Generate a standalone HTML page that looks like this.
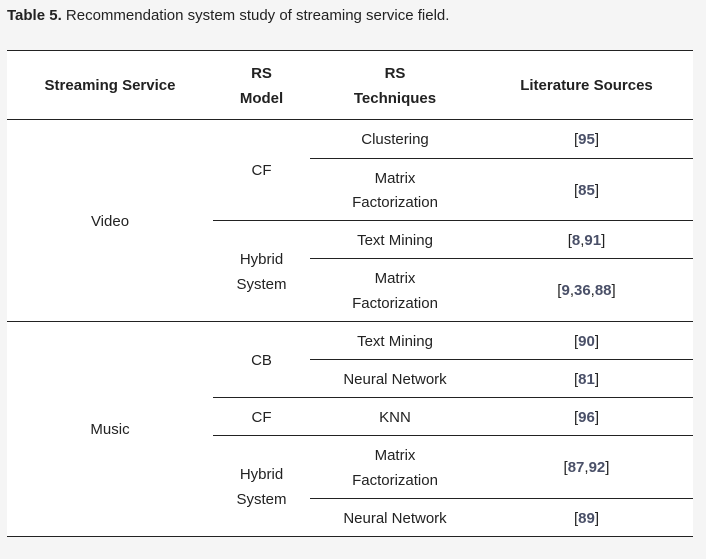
<!DOCTYPE html>
<html><head><meta charset="utf-8"><style>
body{margin:0;width:706px;height:559px;background:#f5f5f5;font-family:"Liberation Sans",Arial,sans-serif;color:#222;position:relative;overflow:hidden}
.cap{position:absolute;left:7px;top:7px;font-size:15px;color:#222}
.tbl{position:absolute;left:7px;top:50px;width:686px;height:486px;background:#fff}
.ln{position:absolute;height:1px;background:#222}
.c{position:absolute;display:flex;align-items:center;justify-content:center;text-align:center;font-size:15px;line-height:24.5px;padding-top:3px;box-sizing:border-box}
.h{font-weight:bold;color:#222}
.r{font-weight:bold;color:#4a5068}
.r b{color:#222;font-weight:normal}
</style></head><body>
<div class="cap"><b>Table 5.</b> Recommendation system study of streaming service field.</div>
<div class="tbl"></div>
<div class="ln" style="left:7px;width:686px;top:50px"></div>
<div class="ln" style="left:7px;width:686px;top:119px"></div>
<div class="ln" style="left:310px;width:383px;top:158px"></div>
<div class="ln" style="left:213px;width:480px;top:220px"></div>
<div class="ln" style="left:310px;width:383px;top:258px"></div>
<div class="ln" style="left:7px;width:686px;top:321px"></div>
<div class="ln" style="left:310px;width:383px;top:359px"></div>
<div class="ln" style="left:213px;width:480px;top:397px"></div>
<div class="ln" style="left:213px;width:480px;top:435px"></div>
<div class="ln" style="left:310px;width:383px;top:498px"></div>
<div class="ln" style="left:7px;width:686px;top:536px"></div>

<div class="c h" style="left:7px;width:206px;top:51px;height:68px">Streaming Service</div>
<div class="c h" style="left:213px;width:97px;top:51px;height:68px">RS<br>Model</div>
<div class="c h" style="left:310px;width:170px;top:51px;height:68px">RS<br>Techniques</div>
<div class="c h" style="left:480px;width:213px;top:51px;height:68px">Literature Sources</div>

<div class="c" style="left:7px;width:206px;top:120px;height:201px">Video</div>
<div class="c" style="left:7px;width:206px;top:322px;height:214px">Music</div>

<div class="c" style="left:213px;width:97px;top:120px;height:100px">CF</div>
<div class="c" style="left:213px;width:97px;top:221px;height:100px">Hybrid<br>System</div>
<div class="c" style="left:213px;width:97px;top:322px;height:75px">CB</div>
<div class="c" style="left:213px;width:97px;top:398px;height:37px">CF</div>
<div class="c" style="left:213px;width:97px;top:436px;height:100px">Hybrid<br>System</div>

<div class="c" style="left:310px;width:170px;top:120px;height:38px">Clustering</div>
<div class="c" style="left:310px;width:170px;top:159px;height:61px">Matrix<br>Factorization</div>
<div class="c" style="left:310px;width:170px;top:221px;height:37px">Text Mining</div>
<div class="c" style="left:310px;width:170px;top:259px;height:62px">Matrix<br>Factorization</div>
<div class="c" style="left:310px;width:170px;top:322px;height:37px">Text Mining</div>
<div class="c" style="left:310px;width:170px;top:360px;height:37px">Neural Network</div>
<div class="c" style="left:310px;width:170px;top:398px;height:37px">KNN</div>
<div class="c" style="left:310px;width:170px;top:436px;height:62px">Matrix<br>Factorization</div>
<div class="c" style="left:310px;width:170px;top:499px;height:37px">Neural Network</div>

<div class="c r" style="left:480px;width:213px;top:120px;height:38px"><b>[</b>95<b>]</b></div>
<div class="c r" style="left:480px;width:213px;top:159px;height:61px"><b>[</b>85<b>]</b></div>
<div class="c r" style="left:480px;width:213px;top:221px;height:37px"><b>[</b>8<b>,</b>91<b>]</b></div>
<div class="c r" style="left:480px;width:213px;top:259px;height:62px"><b>[</b>9<b>,</b>36<b>,</b>88<b>]</b></div>
<div class="c r" style="left:480px;width:213px;top:322px;height:37px"><b>[</b>90<b>]</b></div>
<div class="c r" style="left:480px;width:213px;top:360px;height:37px"><b>[</b>81<b>]</b></div>
<div class="c r" style="left:480px;width:213px;top:398px;height:37px"><b>[</b>96<b>]</b></div>
<div class="c r" style="left:480px;width:213px;top:436px;height:62px"><b>[</b>87<b>,</b>92<b>]</b></div>
<div class="c r" style="left:480px;width:213px;top:499px;height:37px"><b>[</b>89<b>]</b></div>
</body></html>
